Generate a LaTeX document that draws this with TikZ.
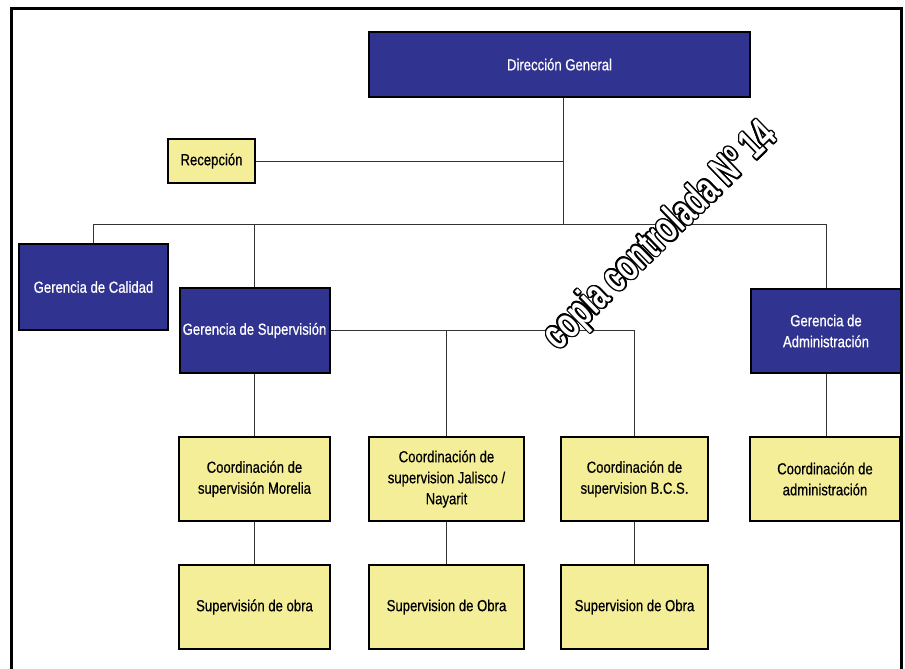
\documentclass[tikz,border=0pt]{standalone}
\usepackage{fontspec}
\setmainfont{Liberation Sans}[FakeStretch=0.82, FakeBold=0.6]
\newfontfamily\marcafont{Liberation Sans Bold}[FakeStretch=0.66]
\usepackage{tikz}
\usetikzlibrary{positioning}

\definecolor{azul}{RGB}{49,51,145}
\definecolor{amarillo}{RGB}{245,238,152}

\begin{document}
\begin{tikzpicture}[
  x=1pt, y=-1pt,
  gerencia/.style = {draw, line width=2pt, fill=azul, text=white, inner sep=2pt,
                     minimum width=150pt, minimum height=85pt, align=center, font=\fontsize{16}{21}\selectfont},
  coord/.style = {draw, line width=2pt, fill=amarillo, text=black, inner sep=2pt,
                  minimum width=151pt, minimum height=84pt, align=center, font=\fontsize{16}{21}\selectfont},
  link/.style = {draw=black!80, line width=1pt},
  marca/.style = {rotate=44, font=\marcafont\fontsize{43}{43}\selectfont}
  ]

  \useasboundingbox (0,0) rectangle (905,669);
  % frame
  \draw[line width=3pt] (11,669) -- (11,9) -- (901,9) -- (901,669);

  % Direccion
  \node[gerencia, minimum width=381pt, minimum height=65pt] (dg) at (559.5,64.5) {Dirección General};
  \node[coord, minimum width=87pt, minimum height=44pt] (rec) at (211.5,161) {Recepción};

  % Gerencias
  \node[gerencia, minimum width=149pt, minimum height=86pt] (cal) at (93.5,287) {Gerencia de Calidad};
  \node[gerencia] (sup) at (254.5,330.5) {Gerencia de Supervisión};
  \node[gerencia, minimum height=84pt] (adm) at (826,331) {Gerencia de\\Administración};

  % Coordinaciones
  \node[coord] (mor) at (254.5,479) {Coordinación de\\supervisión Morelia};
  \node[coord, minimum width=155pt] (jal) at (446.5,479) {Coordinación de\\supervision Jalisco /\\Nayarit};
  \node[coord, minimum width=147pt] (bcs) at (634.5,479) {Coordinación de\\supervision B.C.S.};
  \node[coord, minimum width=150pt] (cadm) at (825,479) {Coordinación de\\administración};

  % Obras
  \node[coord] (ob1) at (254.5,607) {Supervisión de obra};
  \node[coord, minimum width=155pt] (ob2) at (446.5,607) {Supervision de Obra};
  \node[coord, minimum width=147pt] (ob3) at (634.5,607) {Supervision de Obra};

  % connectors
  \coordinate (bus) at (563,224);
  \draw[link] (dg.south -| bus) -- (bus);
  \draw[link] (rec.east) -- (rec.east -| bus);
  \draw[link] (cal.north) |- (adm.north |- bus) -- (adm.north);
  \draw[link] (sup.north) -- (sup.north |- bus);
  \draw[link] (sup.east) -| (bcs.north);
  \draw[link] (jal.north) -- (jal.north |- sup.east);
  \draw[link] (sup.south) -- (mor.north);
  \draw[link] (adm.south) -- (adm.south |- cadm.north);
  \draw[link] (mor.south) -- (ob1.north);
  \draw[link] (jal.south) -- (ob2.north);
  \draw[link] (bcs.south) -- (ob3.north);

  % watermark
  \coordinate (wm) at (661,237);
  \foreach \a in {0,20,...,340}
    \node[marca, text=black, shift={(\a:1.4pt)}] (wm-\a) at (wm) {copia controlada Nº 14};
  \node[marca, text=white] (wmtext) at (wm) {copia controlada Nº 14};

\end{tikzpicture}
\end{document}
